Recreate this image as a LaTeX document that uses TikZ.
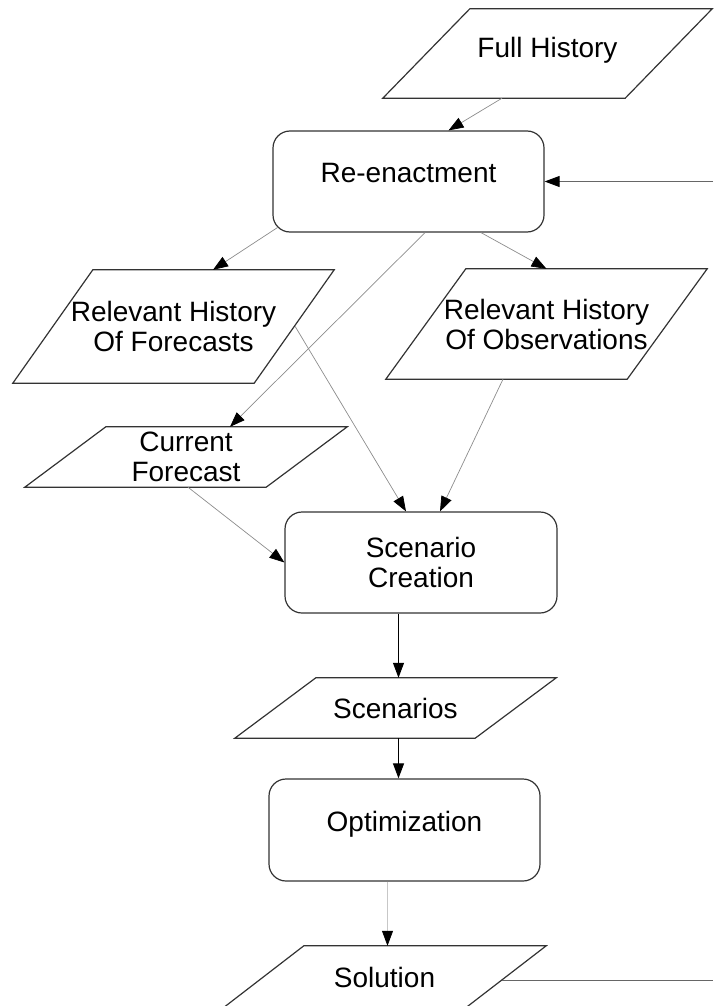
\documentclass[tikz,border=0pt]{standalone}
\usepackage{fontspec}
\setmainfont{Liberation Sans}
\usetikzlibrary{arrows.meta,calc}
\begin{document}
\begin{tikzpicture}[x=1pt,y=-1pt,
  font=\fontsize{28}{30}\selectfont,
  box/.style={draw=black!80, line width=1.2pt, rounded corners=17pt, inner sep=0pt, align=center},
  io/.style={inner sep=0pt, align=center},
  ioline/.style={draw=black!80, line width=1.2pt, line join=miter},
  tip/.style={-{Triangle[length=15pt,width=11pt,color=black]}},
  con/.style={tip, line width=0.7pt, draw=black!45},
  conlight/.style={tip, line width=0.7pt, draw=black!22},
  condark/.style={tip, line width=1pt, draw=black},
  conmid/.style={line width=0.9pt, draw=black!60}]
\useasboundingbox (0,0) rectangle (713,1006);

% nodes
\node[io, minimum width=329pt, minimum height=89pt, text height=20pt, text depth=12pt] (fh) at (547.5,53.5) {Full History};
\node[box, minimum width=271pt, minimum height=101pt, text height=20pt, text depth=18pt] (re) at (408.5,181.5) {Re-enactment};
\node[io, minimum width=321pt, minimum height=113pt] (rhf) at (173.5,326.5) {Relevant History\\Of Forecasts};
\node[io, minimum width=321pt, minimum height=110pt] (rho) at (546.5,324) {Relevant History\\Of Observations};
\node[io, minimum width=322pt, minimum height=60pt] (cf) at (186,457) {Current\\Forecast};
\node[box, minimum width=272pt, minimum height=101pt] (sc) at (421,562.5) {Scenario\\Creation};
\node[io, minimum width=321pt, minimum height=60pt, text height=20pt, text depth=0pt] (scen) at (395.5,708) {Scenarios};
\node[box, minimum width=271pt, minimum height=102pt, text height=20pt, text depth=17pt] (opt) at (404.5,830) {Optimization};
\node[io, minimum width=323pt, minimum height=62pt, text height=20pt, text depth=0pt] (sol) at (384.5,977) {Solution};

% parallelogram outlines
\foreach \n/\s in {fh/87,rhf/80,rho/80,cf/81,scen/81,sol/81}
  \draw[ioline] ([xshift=\s pt]\n.north west) -- (\n.north east) -- ([xshift=-\s pt]\n.south east) -- (\n.south west) -- cycle;

\coordinate (fbT) at (713,181.5);
\coordinate (fbB) at (713,980);

% connectors
\draw[con] ([xshift=-45.5pt]fh.south) -- ([xshift=40pt]re.north);
\draw[con] ([xshift=5pt,yshift=5pt]re.south west) -- ([xshift=39.5pt]rhf.north);
\draw[con] ([xshift=16.5pt]re.south) -- ([xshift=44pt]cf.north);
\draw[con] ([xshift=72.5pt]re.south) -- (rho.north);
\draw[con] ([xshift=-39pt]rhf.east) -- ([xshift=-15pt]sc.north);
\draw[con] ([xshift=-43.5pt]rho.south) -- ([xshift=19pt]sc.north);
\draw[con] ([xshift=2pt]cf.south) -- (sc.west);
\draw[condark] ([xshift=-22.5pt]sc.south) -- ([xshift=3pt]scen.north);
\draw[condark] ([xshift=3pt]scen.south) -- ([xshift=-6pt]opt.north);
\draw[conlight] ([xshift=-17pt]opt.south) -- ([xshift=3pt]sol.north);
\draw[conmid] ([xshift=-44pt,yshift=-3pt]sol.east) -- (fbB);
\draw[conmid, tip] (fbT) -- (re.east);
\end{tikzpicture}
\end{document}
